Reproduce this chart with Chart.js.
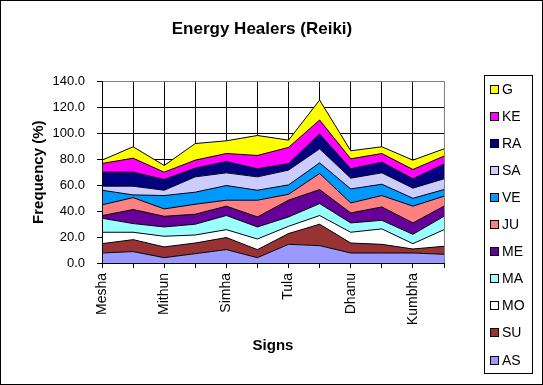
<!DOCTYPE html>
<html>
<head>
<meta charset="utf-8">
<script src="https://cdn.jsdelivr.net/npm/chart.js@4/dist/chart.umd.min.js"></script>
<style>
  body { margin: 0; background: #fff; }
  canvas { display: block; }
</style>
</head>
<body>
<canvas id="myChart" width="543" height="385"></canvas>
<script>
const signs = ['Mesha', 'Vrishabha', 'Mithun', 'Karka', 'Simha', 'Kanya', 'Tula', 'Vrischika', 'Dhanu', 'Makara', 'Kumbha', 'Meena'];
const yTicks = [0, 20, 40, 60, 80, 100, 120, 140];

const AS = [7.7, 8.8, 4.1, 7.2, 10.3, 4.1, 14.4, 13.4, 7.7, 7.7, 7.7, 6.7];
const SU = [7.2, 9.2, 8.3, 8.2, 9.3, 6.2, 8.3, 16.5, 7.7, 6.7, 3.1, 6.2];
const MO = [8.8, 5.7, 8.2, 6.2, 6.1, 8.2, 5.6, 6.7, 8.3, 11.9, 4.1, 12.8];
const MA = [10.8, 6.7, 7.2, 8.3, 10.9, 9.3, 7.2, 9.2, 7.2, 6.6, 7.2, 10.3];
const ME = [2.0, 10.8, 8.2, 7.7, 7.2, 7.7, 12.9, 10.8, 7.7, 10.3, 8.8, 7.8];
const JU = [8.3, 9.2, 5.7, 7.7, 4.6, 12.9, 4.6, 12.4, 7.7, 8.8, 12.9, 7.7];
const VE = [11.3, 2.1, 10.3, 9.3, 11.3, 7.7, 7.2, 8.2, 10.8, 8.7, 6.1, 5.1];
const SA = [3.1, 6.7, 4.1, 11.8, 9.8, 10.3, 11.4, 10.8, 8.3, 8.8, 7.8, 8.3];
const RA = [10.8, 10.8, 8.3, 6.7, 8.7, 6.2, 5.1, 11.4, 7.2, 8.2, 7.2, 11.3];
const KE = [6.7, 10.8, 5.6, 6.2, 6.2, 10.3, 12.4, 10.8, 7.7, 6.7, 7.2, 6.2];
const G = [2.6, 8.8, 5.2, 12.8, 9.8, 15.4, 5.6, 15.4, 6.2, 5.2, 7.2, 5.6];

const seriesNames = ['AS', 'SU', 'MO', 'MA', 'ME', 'JU', 'VE', 'SA', 'RA', 'KE', 'G'];
const seriesData = [AS, SU, MO, MA, ME, JU, VE, SA, RA, KE, G];
const seriesColors = ['#9999FF', '#993333', '#FFFFFF', '#99FFFF', '#660099', '#FF8080', '#0099FF', '#CCCCFF', '#000080', '#FF00FF', '#FFFF00'];

const FONT = 'Liberation Sans, Arial, sans-serif';

// white page + thin black frame, gray top/right edge of plot, and the boxed legend
const framePlugin = {
    id: 'frame',
    beforeDraw: (chart) => {
        const ctx = chart.ctx;
        ctx.save();
        ctx.fillStyle = '#fff';
        ctx.fillRect(0, 0, chart.width, chart.height);
        ctx.strokeStyle = '#000';
        ctx.lineWidth = 1;
        ctx.strokeRect(0.5, 0.5, chart.width - 1, chart.height - 1);
        ctx.restore();
    },
    afterDatasetsDraw: (chart) => {
        const ctx = chart.ctx;
        const a = chart.chartArea;
        ctx.save();
        ctx.strokeStyle = '#808080';
        ctx.lineWidth = 1;
        ctx.beginPath();
        ctx.moveTo(a.left, Math.round(a.top) + 0.5);
        ctx.lineTo(Math.round(a.right) + 0.5, Math.round(a.top) + 0.5);
        ctx.lineTo(Math.round(a.right) + 0.5, a.bottom);
        ctx.stroke();
        ctx.restore();
    },
    afterDraw: (chart) => {
        const ctx = chart.ctx;
        const sets = chart.data.datasets;
        ctx.save();
        ctx.strokeStyle = '#000';
        ctx.lineWidth = 1;
        ctx.strokeRect(484.5, 75.5, 48, 298);
        ctx.font = '14px ' + FONT;
        ctx.textBaseline = 'middle';
        ctx.textAlign = 'left';
        for (let i = 0; i < sets.length; i++) {
            const ds = sets[sets.length - 1 - i];
            const cy = Math.round(89 + i * 27.05);
            ctx.fillStyle = ds.backgroundColor;
            ctx.fillRect(490, cy - 4, 9, 9);
            ctx.strokeRect(490.5, cy - 3.5, 8, 8);
            ctx.fillStyle = '#000';
            ctx.fillText(ds.label, 502, cy + 1);
        }
        ctx.restore();
    }
};

displayGraph = () => {
    const ctx = document.getElementById('myChart').getContext('2d');
    const datasets = seriesNames.map((name, i) => ({
        label: name,
        data: seriesData[i],
        backgroundColor: seriesColors[i],
        borderColor: '#000',
        borderWidth: 1,
        fill: i === 0 ? 'origin' : '-1',
        pointRadius: 0,
        tension: 0
    }));
    new Chart(ctx, {
        type: 'line',
        data: { labels: signs, datasets: datasets },
        plugins: [framePlugin],
        options: {
            responsive: false,
            animation: false,
            devicePixelRatio: 1,
            layout: { padding: { top: 0, right: 19, bottom: 0, left: 0 } },
            plugins: {
                legend: { display: false },
                tooltip: { enabled: false },
                title: {
                    display: true,
                    text: 'Energy Healers (Reiki)',
                    color: '#000',
                    font: { family: FONT, size: 17, weight: 'bold' },
                    padding: { top: 19, bottom: 42 }
                }
            },
            scales: {
                x: {
                    offset: false,
                    afterFit: (s) => { s.height = 122; },
                    grid: {
                        color: (c) => c.index === signs.length - 1 ? '#808080' : '#000',
                        tickColor: '#000',
                        tickLength: 5,
                        lineWidth: 1
                    },
                    border: { color: '#000', z: 1 },
                    ticks: {
                        autoSkip: false,
                        minRotation: 90,
                        maxRotation: 90,
                        padding: 5,
                        color: '#000',
                        font: { family: FONT, size: 14 },
                        callback: (v, i) => i % 2 === 0 ? signs[i] : ''
                    },
                    title: {
                        display: true,
                        text: 'Signs',
                        color: '#000',
                        font: { family: FONT, size: 15, weight: 'bold' },
                        padding: { top: 0, bottom: 30 }
                    }
                },
                y: {
                    stacked: true,
                    min: yTicks[0],
                    max: yTicks[yTicks.length - 1],
                    afterFit: (s) => { s.width = 102; },
                    afterBuildTicks: (s) => { s.ticks = yTicks.map(v => ({ value: v })); },
                    grid: {
                        color: (c) => c.tick && c.tick.value === 140 ? '#808080' : '#000',
                        tickColor: '#000',
                        tickLength: 5,
                        lineWidth: 1
                    },
                    border: { color: '#000', z: 1 },
                    ticks: {
                        padding: 12,
                        color: '#000',
                        font: { family: FONT, size: 13 },
                        callback: (v) => Number(v).toFixed(1)
                    },
                    title: {
                        display: true,
                        text: 'Frequency (%)',
                        color: '#000',
                        font: { family: FONT, size: 15, weight: 'bold' },
                        padding: { top: 30, bottom: 0 }
                    }
                },
                gap: {
                    type: 'linear',
                    position: 'right',
                    display: true,
                    afterFit: (s) => { s.width = 80; },
                    grid: { display: false },
                    border: { display: false },
                    ticks: { display: false }
                }
            }
        }
    });
}

displayGraph();
</script>
</body>
</html>
